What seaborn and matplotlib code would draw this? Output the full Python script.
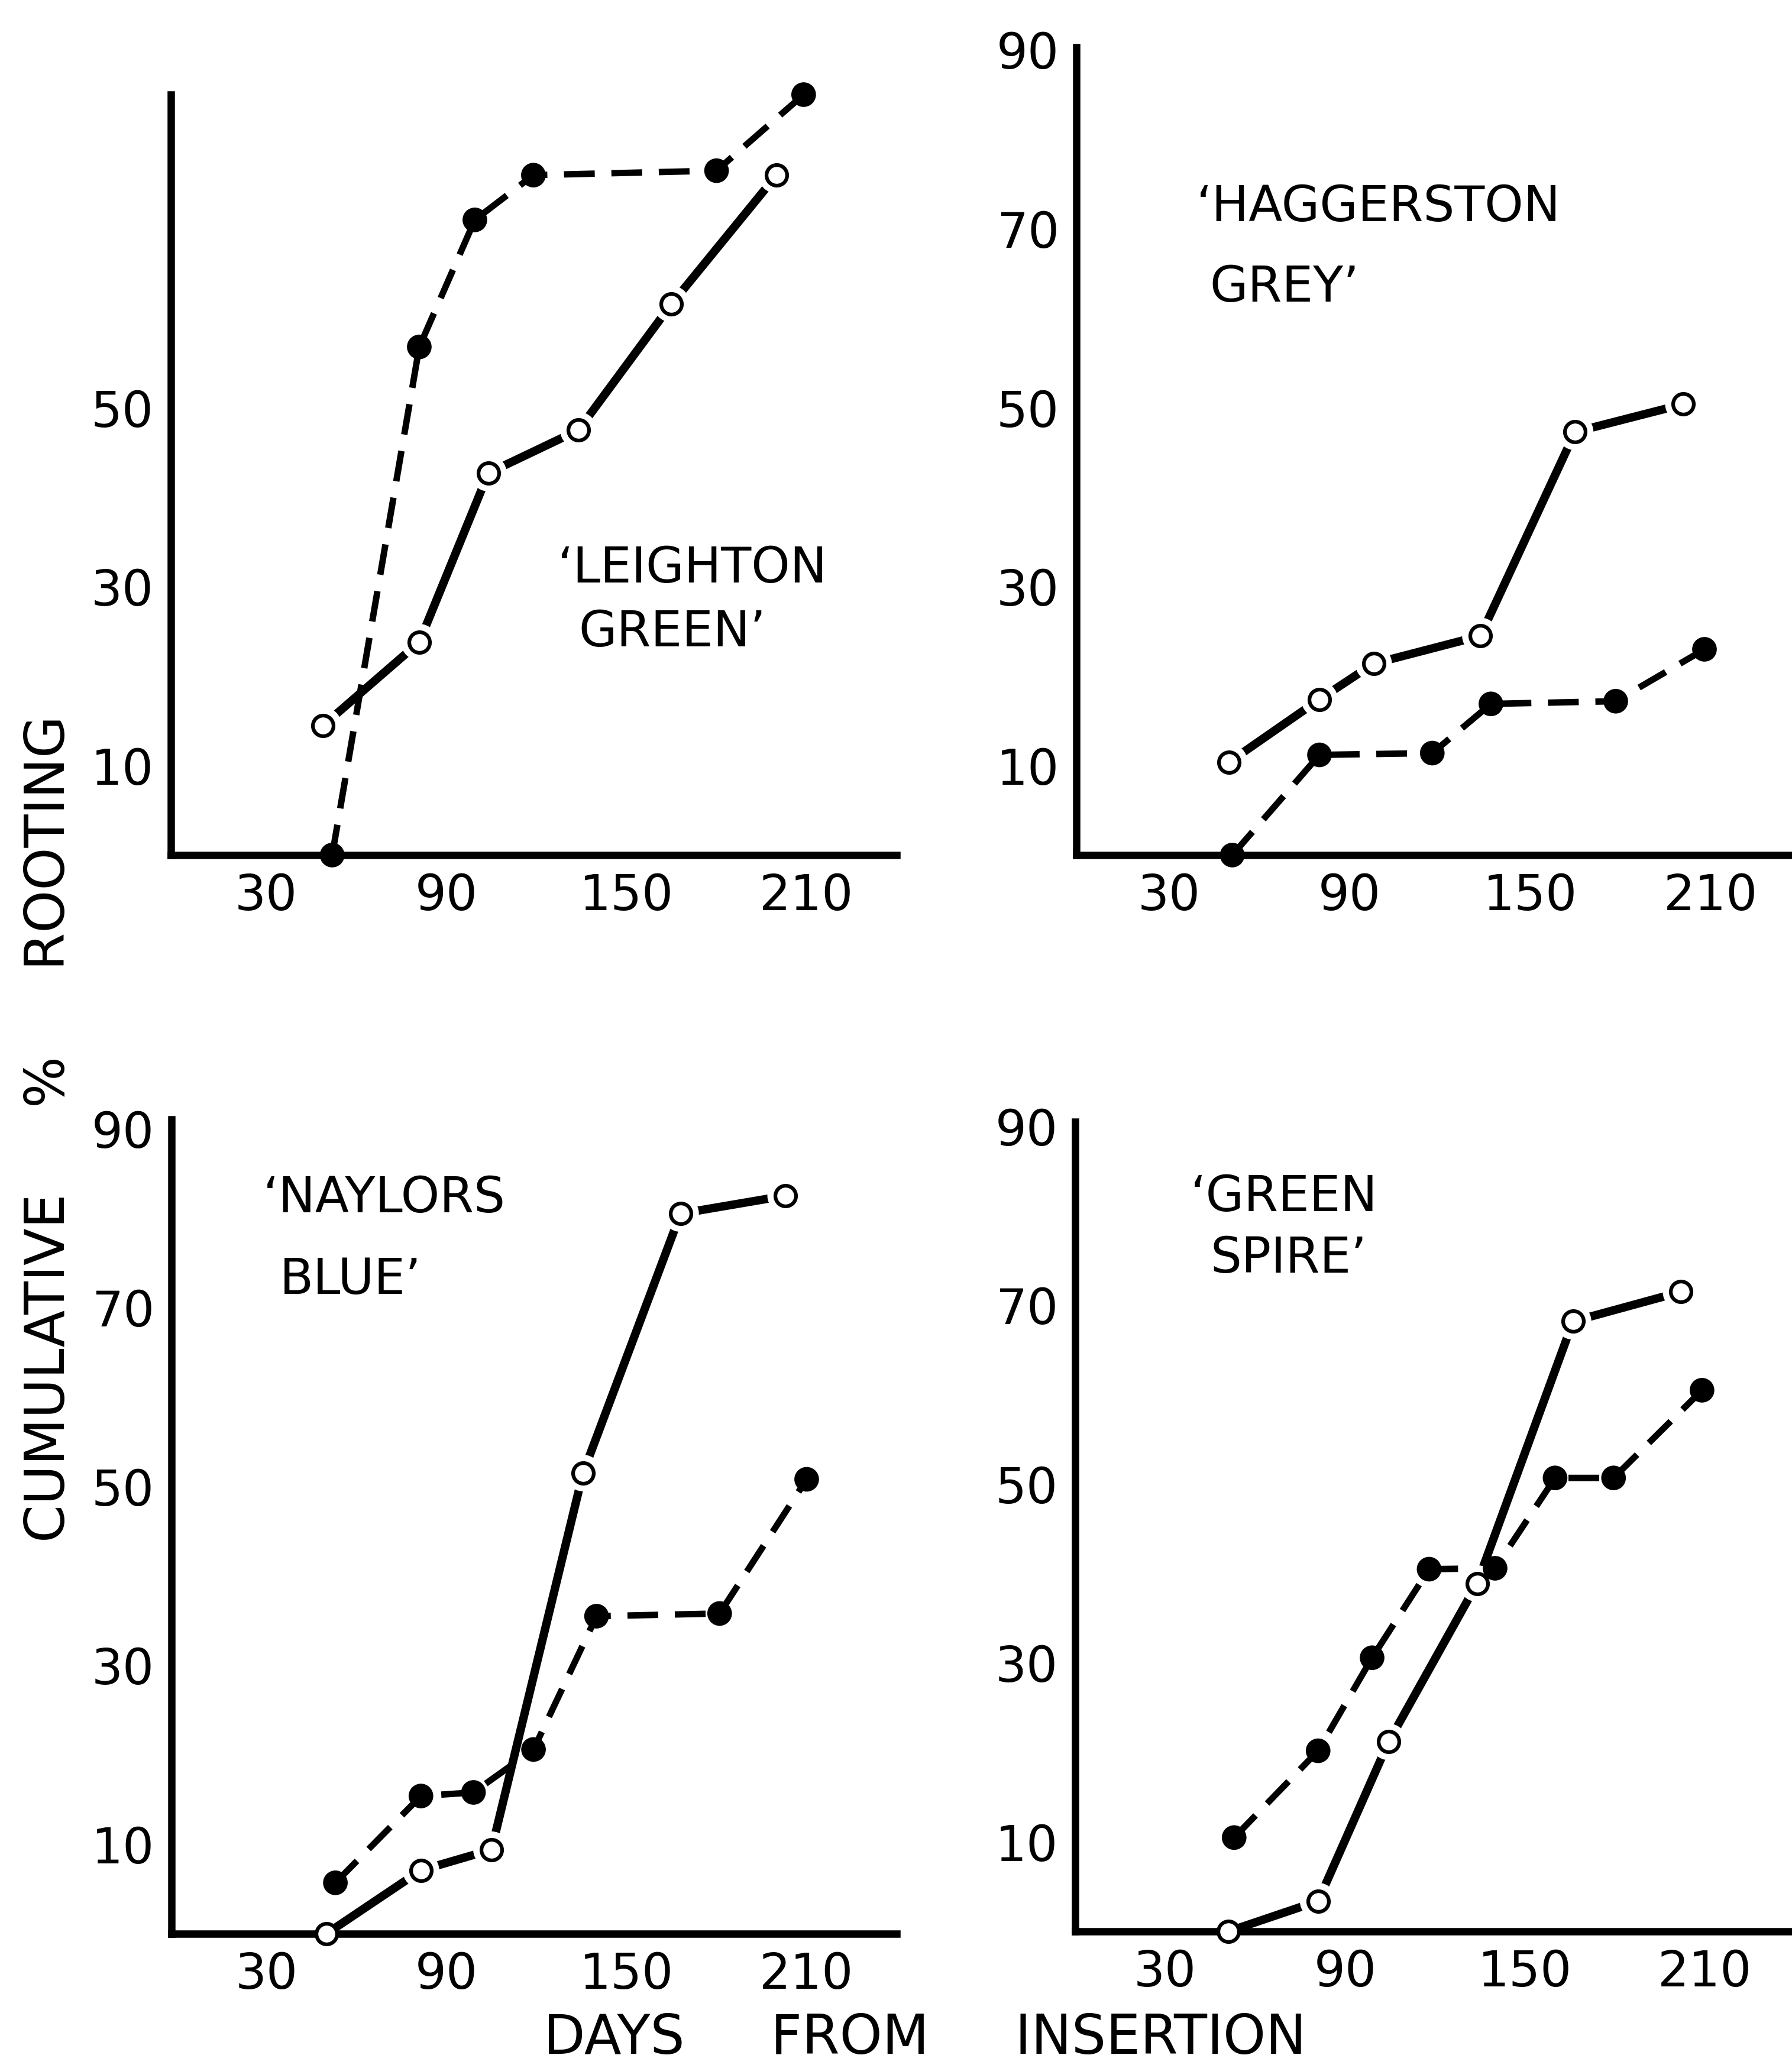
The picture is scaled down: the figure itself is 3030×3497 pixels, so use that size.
import matplotlib
matplotlib.use("Agg")
import matplotlib.pyplot as plt
import seaborn as sns

# Leighton Green
lg_open_days = [49, 81, 104, 134, 165, 200]
lg_open_pct = [14.5, 23.8, 42.7, 47.5, 61.6, 76.0]
lg_fill_days = [52, 81, 99.5, 119, 180, 209]
lg_fill_pct = [0, 56.8, 71.0, 76.0, 76.5, 85.0]

# Haggerston Grey
hg_open_days = [50, 80, 98, 133.5, 165, 201]
hg_open_pct = [10.4, 17.4, 21.4, 24.5, 47.3, 50.4]
hg_fill_days = [51, 80, 117.5, 137, 178.5, 208]
hg_fill_pct = [0, 11.2, 11.4, 16.9, 17.2, 23.0]

# Naylors Blue
nb_open_days = [50, 81.5, 105, 135.5, 168, 203]
nb_open_pct = [0, 7.1, 9.4, 51.5, 80.5, 82.5]
nb_fill_days = [53, 81.5, 99, 119, 140, 181, 210]
nb_fill_pct = [5.7, 15.4, 15.8, 20.6, 35.5, 35.8, 50.8]

# Green Spire
gs_open_days = [51, 81, 104.5, 134, 166, 202]
gs_open_pct = [0, 3.4, 21.2, 38.9, 68.2, 71.5]
gs_fill_days = [53, 81, 99, 118, 140, 160, 179.5, 209]
gs_fill_pct = [10.5, 20.2, 30.6, 40.5, 40.6, 50.7, 50.7, 60.5]

x_ticks = [30, 90, 150, 210]
y_ticks_short = [10, 30, 50]
y_ticks_full = [10, 30, 50, 70, 90]

sns.set_style("ticks")
plt.rcParams['font.family'] = ['DejaVu Sans', 'Noto Sans']
for key in ('text.color', 'axes.edgecolor', 'axes.labelcolor', 'xtick.color', 'ytick.color'):
    plt.rcParams[key] = 'black'

LINE_W = 3.4
DASH_W = 2.6
SPINE_W = 3.0


def draw_panel(ax, open_days, open_pct, fill_days, fill_pct, yticks, xlim, ytop, lines):
    """One cultivar: open circles on a solid line, filled circles on a dashed one"""
    sns.lineplot(x=open_days, y=open_pct, ax=ax, color='black', lw=LINE_W,
                 errorbar=None, sort=False, zorder=2)
    sns.lineplot(x=fill_days, y=fill_pct, ax=ax, color='black', lw=DASH_W,
                 linestyle=(0, (4.8, 2.6)), errorbar=None, sort=False, zorder=2)

    # white halo so the solid line stops short of the open circles
    halo_x = [d for d, p in zip(open_days, open_pct) if p > 0]
    halo_y = [p for p in open_pct if p > 0]
    sns.scatterplot(x=halo_x, y=halo_y, ax=ax, s=220, color='white',
                    edgecolor='none', zorder=3, clip_on=False, legend=False)
    sns.scatterplot(x=open_days, y=open_pct, ax=ax, s=70, color='white',
                    edgecolor='black', linewidth=1.5, zorder=4, clip_on=False, legend=False)
    sns.scatterplot(x=fill_days, y=fill_pct, ax=ax, s=100, color='black',
                    edgecolor='none', zorder=4, clip_on=False, legend=False)

    ax.set_xlim(*xlim)
    ax.set_ylim(0, 92)
    ax.set_xticks(x_ticks)
    ax.set_yticks(yticks)
    ax.set_xlabel('')
    ax.set_ylabel('')
    ax.tick_params(length=0, pad=7, labelsize=20)
    sns.despine(ax=ax)
    for side in ('left', 'bottom'):
        ax.spines[side].set_linewidth(SPINE_W)
    ax.spines['left'].set_bounds(0, ytop)

    for (tx, ty, txt) in lines:
        ax.text(tx, ty, txt, fontsize=20, ha='left', va='center')


fig = plt.figure(figsize=(10.1, 11.657), dpi=300)
fig.patch.set_facecolor('white')

ax_tl = fig.add_axes([0.0954, 0.5865, 0.405, 0.398])
draw_panel(ax_tl, lg_open_days, lg_open_pct, lg_fill_days, lg_fill_pct,
           y_ticks_short, (-1.7, 240), 85,
           [(127, 32.0, '\u2018LEIGHTON'), (134, 24.9, 'GREEN\u2019')])

ax_tr = fig.add_axes([0.6007, 0.5865, 0.3993, 0.398])
draw_panel(ax_tr, hg_open_days, hg_open_pct, hg_fill_days, hg_fill_pct,
           y_ticks_full, (-0.8, 237.1), 90.3,
           [(39.0, 72.4, '\u2018HAGGERSTON'), (43.5, 63.4, 'GREY\u2019')])

ax_bl = fig.add_axes([0.0957, 0.0649, 0.4047, 0.398])
draw_panel(ax_bl, nb_open_days, nb_open_pct, nb_fill_days, nb_fill_pct,
           y_ticks_full, (-1.6, 240), 91,
           [(29.0, 82.2, '\u2018NAYLORS'), (34.5, 73.1, 'BLUE\u2019')])

ax_br = fig.add_axes([0.6, 0.066, 0.4, 0.398])
draw_panel(ax_br, gs_open_days, gs_open_pct, gs_fill_days, gs_fill_pct,
           y_ticks_full, (0, 239), 90.5,
           [(38.5, 82.1, '\u2018GREEN'), (45.0, 75.2, 'SPIRE\u2019')])

fig.text(0.0274, 0.454, 'CUMULATIVE     %     ROOTING', rotation=90,
         fontsize=22, ha='center', va='center')
fig.text(0.516, 0.0068, 'DAYS     FROM     INSERTION', fontsize=22,
         ha='center', va='baseline')

fig.savefig('out.png', dpi=300, facecolor='white')
